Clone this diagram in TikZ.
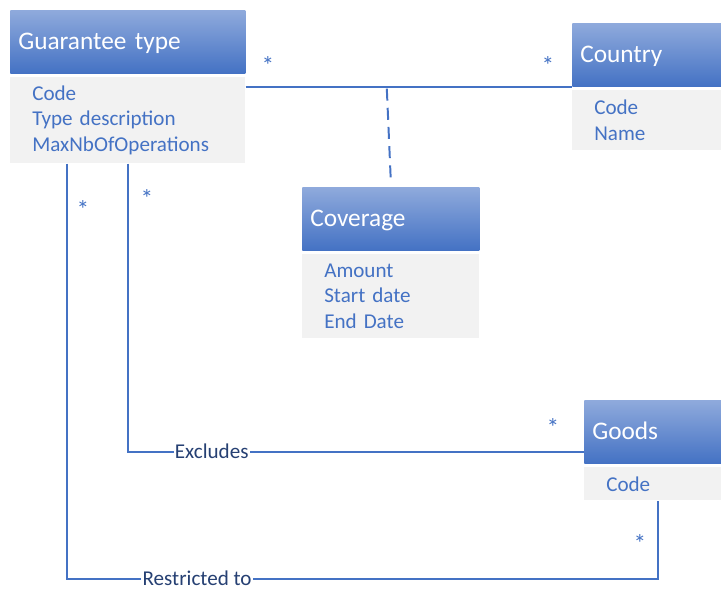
\documentclass[tikz,border=0pt]{standalone}
\usepackage{fontspec}
\setmainfont{Carlito}
\usepackage{tikz}
\definecolor{headtop}{RGB}{143,170,220}
\definecolor{headbot}{RGB}{68,114,196}
\definecolor{bodygray}{RGB}{242,242,242}
\definecolor{umlblue}{RGB}{68,114,196}
\definecolor{labelblue}{RGB}{38,64,115}
\tikzset{
	head/.style={rectangle,anchor=north west,top color=headtop,bottom color=headbot,text=white,font=\fontsize{18}{21}\selectfont,inner xsep=0.2cm,inner ysep=0pt,minimum height=1.575cm,text height=14pt,text depth=2.5pt,text width=#1,align=left},
	attrs/.style={rectangle,anchor=north west,fill=bodygray,text=umlblue,font=\fontsize{15}{18}\selectfont,inner xsep=0.55cm,inner ysep=0pt,text width=#1,align=left},
	assoc/.style={umlblue,line width=1.4pt},
	dep/.style={umlblue,line width=1.4pt,dash pattern=on 0.3cm off 0.18cm},
	rolename/.style={shape=rectangle,fill=white,inner sep=1pt,text=labelblue,font=\fontsize{15}{18}\selectfont},
	mult/.style={inner sep=0pt,text=umlblue,font=\fontsize{18}{20}\selectfont},
}

\begin{document}
\begin{tikzpicture}[x=0.025cm,y=-0.025cm]
\useasboundingbox (0,0) rectangle (721,588);
%CLASSES
\node[head=5.475cm] (gthead) at (10,10) {Guarantee type};
\node[attrs=4.775cm,minimum height=2.15cm] (gtbody) at (10,77) {Code\\Type description\\MaxNbOfOperations};
\node[head=3.4cm] (cthead) at (572,23) {Country};
\node[attrs=2.7cm,minimum height=1.5cm] (ctbody) at (572,90) {Code\\Name};
\node[head=4.025cm] (cvhead) at (302,187) {Coverage};
\node[attrs=3.325cm,minimum height=2.1cm] (cvbody) at (302,254) {Amount\\Start date\\End Date};
\node[head=3.3cm] (gdhead) at (584,400) {Goods};
\node[attrs=2.6cm,minimum height=0.825cm] (gdbody) at (584,467) {Code};
%ASSOCIATIONS
\draw[assoc] (gtbody.east |- cthead.south west) -- (cthead.south west);
\coordinate (cvlink) at (cvhead.north |- cthead.south);
\draw[dep] ([xshift=-0.1cm,yshift=-0.05cm]cvlink) -- ([yshift=0.15cm]cvhead.north);
\draw[assoc] (gtbody.south) |- node[rolename,pos=0.592] (exlabel) {Excludes} ([yshift=0.3cm]gdhead.south west);
\draw[assoc] ([xshift=1.425cm]gtbody.south west) |- node[rolename,pos=0.61] (rtlabel) {Restricted to} ([yshift=-1.95cm]gdbody.south) -- (gdbody.south);
%MULTIPLICITIES
\node[mult] (m1) at (268,66) {*};
\node[mult] (m2) at (548,66) {*};
\node[mult] (m3) at (147,199) {*};
\node[mult] (m4) at (83,210) {*};
\node[mult] (m5) at (553,428) {*};
\node[mult] (m6) at (640,543) {*};
\end{tikzpicture}
\end{document}
